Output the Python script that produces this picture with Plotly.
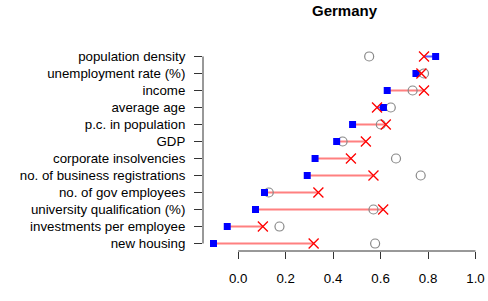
import plotly.graph_objects as go

categories = ["population density", "unemployment rate (%)", "income", "average age",
              "p.c. in population", "GDP", "corporate insolvencies",
              "no. of business registrations", "no. of gov employees",
              "university qualification (%)", "investments per employee", "new housing"]
square_vals = [0.832, 0.749, 0.628, 0.612, 0.482, 0.415, 0.324, 0.291, 0.111, 0.073, -0.046, -0.104]
cross_vals = [0.783, 0.772, 0.783, 0.585, 0.622, 0.538, 0.475, 0.570, 0.338, 0.611, 0.104, 0.318]
circle_vals = [0.552, 0.783, 0.735, 0.643, 0.601, 0.440, 0.665, 0.769, 0.129, 0.570, 0.174, 0.577]
x_ticks = [0.0, 0.2, 0.4, 0.6, 0.8, 1.0]
title = "Germany"

FONT = "Liberation Sans, Arial, Helvetica, sans-serif"
fig = go.Figure()

# segments from square to cross: red if rising, blue if falling
red_x, red_y, blue_x, blue_y = [], [], [], []
for i, (s, c) in enumerate(zip(square_vals, cross_vals)):
    if c >= s:
        red_x += [s, c, None]; red_y += [i, i, None]
    else:
        blue_x += [s, c, None]; blue_y += [i, i, None]
fig.add_trace(go.Scatter(x=red_x, y=red_y, mode="lines",
                         line=dict(color="rgba(255,60,60,0.65)", width=2), hoverinfo="skip"))
fig.add_trace(go.Scatter(x=blue_x, y=blue_y, mode="lines",
                         line=dict(color="rgba(40,40,255,0.75)", width=2), hoverinfo="skip"))

idx = list(range(len(categories)))
fig.add_trace(go.Scatter(x=circle_vals, y=idx, mode="markers",
                         marker=dict(symbol="circle-open", size=9, color="#888888",
                                     line=dict(width=1.2, color="#888888"))))
fig.add_trace(go.Scatter(x=square_vals, y=idx, mode="markers",
                         marker=dict(symbol="square", size=7, color="#0000ff",
                                     line=dict(width=0))))
fig.add_trace(go.Scatter(x=cross_vals, y=idx, mode="markers",
                         marker=dict(symbol="x-thin", size=10, color="#ff0000",
                                     line=dict(width=1.3, color="#ff0000"))))

xmin = min(square_vals + cross_vals + circle_vals)
xmax = max(x_ticks)
span = xmax - xmin
n = len(categories)

fig.update_layout(
    width=488, height=301,
    margin=dict(l=203, r=2, t=49, b=50),
    paper_bgcolor="white", plot_bgcolor="white",
    showlegend=False,
    font=dict(family=FONT, size=13.3, color="black"),
    title=dict(text="<b>" + title + "</b>", x=0.5, xref="paper", xanchor="center",
               y=1 - 11 / 301, yref="container", yanchor="middle",
               font=dict(family=FONT, size=15, color="black")),
    xaxis=dict(range=[xmin - 0.04 * span, xmax + 0.04 * span],
               tickvals=x_ticks, ticktext=[f"{t:.1f}" for t in x_ticks],
               ticks="outside", ticklen=7, tickcolor="#333", tickwidth=1,
               showgrid=False, zeroline=False, showline=False,
               ticklabelstandoff=8, tickfont=dict(size=13.3, color="black")),
    yaxis=dict(range=[n - 1 + 0.44, -0.44],
               tickvals=idx, ticktext=categories,
               ticks="outside", ticklen=8, tickcolor="#333", tickwidth=1,
               showgrid=False, zeroline=False, showline=False,
               ticklabelstandoff=6, tickfont=dict(size=13.3, color="black")),
    shapes=[
        dict(type="line", xref="x", yref="paper", x0=x_ticks[0], x1=x_ticks[-1],
             y0=0, y1=0, line=dict(color="#333", width=1)),
        dict(type="line", xref="paper", yref="y", x0=0, x1=0,
             y0=idx[0], y1=idx[-1], line=dict(color="#333", width=1)),
    ],
)

fig.write_html("out.html", config={"displayModeBar": False},
               post_script="document.body.style.margin='0';")
